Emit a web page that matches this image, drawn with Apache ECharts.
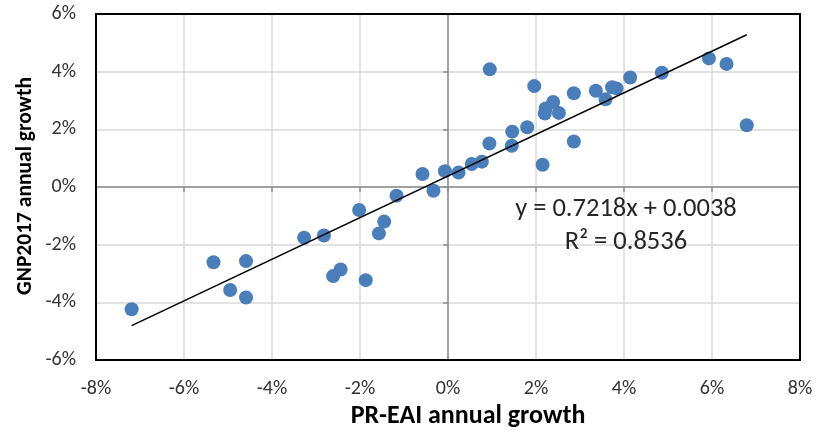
<!DOCTYPE html>
<html>
<head>
<meta charset="utf-8">
<script src="https://cdn.jsdelivr.net/npm/echarts@6/dist/echarts.min.js"></script>
<style>html,body{margin:0;padding:0;background:#fff}#c{width:816px;height:433px}</style>
</head>
<body>
<div id="c"></div>
<script>
// PR-EAI annual growth (%)
var xValues = [0.95, 1.96, 2.86, 3.36, 3.58, 3.73, 3.83, 4.14, 4.86, 5.93, 6.33, 6.79,
  2.39, 2.20, 2.22, 2.52, 2.86, 2.15, 1.80, 1.46, 1.45, 0.94, 0.77, 0.54, 0.24, -0.07,
  -0.58, -0.33, -1.17, -2.02, -1.45, -1.57, -2.82, -3.27, -1.87, -2.44, -2.61, -5.33,
  -4.59, -4.95, -4.59, -7.19];
// GNP2017 annual growth (%)
var yValues = [4.08, 3.50, 3.25, 3.34, 3.04, 3.46, 3.42, 3.80, 3.96, 4.46, 4.27, 2.14,
  2.95, 2.55, 2.72, 2.57, 1.58, 0.77, 2.07, 1.92, 1.43, 1.51, 0.88, 0.80, 0.50, 0.55,
  0.45, -0.13, -0.30, -0.80, -1.20, -1.61, -1.68, -1.76, -3.23, -2.86, -3.09, -2.61,
  -2.57, -3.57, -3.83, -4.24];
var xTicks = [-8, -6, -4, -2, 0, 2, 4, 6, 8];
var yTicks = [-6, -4, -2, 0, 2, 4, 6];
var slope = 0.7218;
var interceptPct = 0.38; // 0.0038 in percent units
var equationText = 'y = 0.7218x + 0.0038';
var r2Text = 'R\u00B2 = 0.8536';
var xTitle = 'PR-EAI annual growth';
var yTitle = 'GNP2017 annual growth';

var points = xValues.map(function (x, i) { return [x, yValues[i]]; });
var xMin = Math.min.apply(null, xValues), xMax = Math.max.apply(null, xValues);
var trend = [[xMin, slope * xMin + interceptPct], [xMax, slope * xMax + interceptPct]];

var FONT = 'Carlito, "Liberation Sans", Arial, sans-serif';
var pct = function (v) { return v + '%'; };
var chart = echarts.init(document.getElementById('c'), null, {renderer: 'canvas'});
var xMinAx = xTicks[0], xMaxAx = xTicks[xTicks.length - 1];
var yMinAx = yTicks[0], yMaxAx = yTicks[yTicks.length - 1];
chart.setOption({
  animation: false,
  grid: {left: 96, right: 16, top: 14, bottom: 73, show: true, borderColor: '#000', borderWidth: 2, backgroundColor: 'transparent', z: 5},
  xAxis: [{
    type: 'value', min: xMinAx, max: xMaxAx, interval: 2, position: 'bottom',
    axisLine: {show: false, onZero: false}, axisTick: {show: false},
    splitLine: {show: true, showMinLine: false, showMaxLine: false, lineStyle: {color: '#d9d9d9', width: 1.5}},
    axisLabel: {formatter: pct, fontSize: 20, color: '#333', margin: 19, fontFamily: FONT}
  }, {
    type: 'value', min: xMinAx, max: xMaxAx, interval: 2, position: 'bottom',
    axisLine: {show: true, onZero: true, onZeroAxisIndex: 0, lineStyle: {color: '#8c8c8c', width: 1.5}},
    axisTick: {show: true, length: 5, lineStyle: {color: '#8c8c8c', width: 1.5}},
    axisLabel: {show: false}, splitLine: {show: false}
  }],
  yAxis: [{
    type: 'value', min: yMinAx, max: yMaxAx, interval: 2, position: 'left',
    axisLine: {show: false, onZero: false}, axisTick: {show: false},
    splitLine: {show: true, showMinLine: false, showMaxLine: false, lineStyle: {color: '#d9d9d9', width: 1.5}},
    axisLabel: {formatter: pct, fontSize: 20, color: '#333', margin: 20, fontFamily: FONT}
  }, {
    type: 'value', min: yMinAx, max: yMaxAx, interval: 2, position: 'left',
    axisLine: {show: true, onZero: true, onZeroAxisIndex: 0, lineStyle: {color: '#8c8c8c', width: 1.5}},
    axisTick: {show: true, length: 5, lineStyle: {color: '#8c8c8c', width: 1.5}},
    axisLabel: {show: false}, splitLine: {show: false}
  }],
  series: [{
    type: 'scatter', xAxisIndex: 0, yAxisIndex: 0, data: points, symbolSize: 14,
    itemStyle: {color: '#4a7ebb', opacity: 1}, z: 3
  }, {
    type: 'line', xAxisIndex: 0, yAxisIndex: 0, data: trend, showSymbol: false, symbol: 'none',
    lineStyle: {color: '#000', width: 1.5}, z: 4, silent: true
  }],
  graphic: [
    {type: 'text', x: 626, y: 209, z: 10, style: {text: equationText, font: '26.5px ' + FONT, fill: '#262626', align: 'center', verticalAlign: 'middle'}},
    {type: 'text', x: 626, y: 242, z: 10, style: {text: r2Text, font: '26.5px ' + FONT, fill: '#262626', align: 'center', verticalAlign: 'middle'}},
    {type: 'text', x: 468, y: 416, z: 10, style: {text: xTitle, font: 'bold 26px ' + FONT, fill: '#000', align: 'center', verticalAlign: 'middle'}},
    {type: 'text', x: 26, y: 186, rotation: Math.PI / 2, z: 10, style: {text: yTitle, font: 'bold 21.5px ' + FONT, fill: '#000', align: 'center', verticalAlign: 'middle'}}
  ]
});
</script>
</body>
</html>
